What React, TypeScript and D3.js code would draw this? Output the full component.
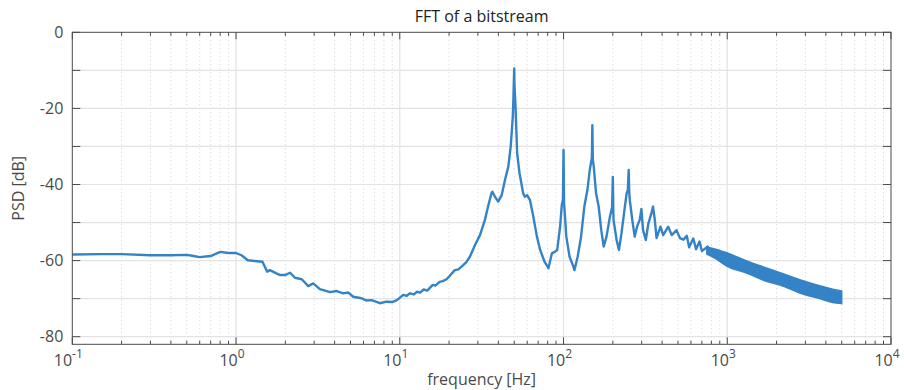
import React from "react";
import * as d3 from "d3";

// Spectrum trace: frequency [Hz] and power spectral density [dB]
const FREQ = [
  0.1, 0.15, 0.2, 0.3, 0.4, 0.5, 0.55, 0.6, 0.7, 0.8, 0.9, 1.0, 1.08, 1.18, 1.3, 1.45,
  1.55, 1.61, 1.75, 1.86, 1.99, 2.14, 2.29, 2.52, 2.76, 2.96, 3.25, 3.75, 4.12, 4.51,
  4.85, 5.2, 5.84, 6.28, 6.73, 7.56, 8.3, 9.0, 9.6, 10.5, 11.0, 11.5, 12.2, 12.7, 13.3,
  14, 14.7, 15.9, 16.5, 17.5, 18.3, 19.3, 20.2, 21.7, 22.8, 24.4, 25.5, 26.8, 28.8,
  30.9, 33.1, 34.6, 36.3, 36.8, 38.1, 39.9, 41.9, 43.9, 46, 47.6, 49, 49.4, 49.8, 50,
  50.2, 51, 52.1, 53.9, 56.7, 58, 59.9, 62.4, 65.4, 68.8, 72, 76.6, 80.9, 84.9, 88.3,
  91.5, 95.3, 97.6, 99.2, 100, 100.8, 101.5, 104, 108.9, 114, 116.6, 122, 128, 134, 140,
  144.6, 147, 149, 150, 151, 153, 158, 164, 170, 176, 183, 192, 198, 200, 201.5, 202,
  211, 218, 226, 237, 243, 247, 250, 252, 254, 263, 272, 281, 292, 299, 306, 318, 330,
  344, 352, 361, 370, 391, 406, 436, 458, 490, 514, 540, 566, 585, 620, 645, 677, 700,
  760, 800, 860, 930, 1000, 1100, 1272, 1585, 1750, 2100, 2770, 3660, 4400, 5000,
];
const PSD_DB = [
  -58.4, -58.3, -58.3, -58.6, -58.6, -58.5, -58.8, -59.1, -58.8, -57.7, -58.0, -58.0,
  -58.6, -59.9, -60.1, -60.3, -62.9, -62.5, -63.3, -63.8, -63.8, -63.2, -64.5, -64.9,
  -66.7, -66.0, -67.5, -68.3, -68.0, -68.6, -68.4, -69.5, -69.9, -70.5, -70.4, -71.2,
  -70.8, -70.9, -70.4, -69.0, -69.3, -68.6, -68.9, -68.2, -68.4, -67.6, -67.9, -66.4,
  -66.6, -65.6, -65.4, -64.9, -64.0, -62.5, -62.3, -61.2, -60.4, -59.0, -55.9, -53.3,
  -49.3, -45.8, -42.3, -41.9, -43.2, -44.5, -42.8, -38.8, -35.3, -30.0, -22.2, -17.8,
  -12.0, -9.5, -14.0, -20.4, -31.8, -37.1, -42.3, -43.2, -42.8, -44.1, -48.5, -53.7,
  -57.2, -60.3, -62.0, -58.1, -57.7, -57.2, -51.1, -45.4, -44.0, -30.9, -45.0, -46.7,
  -53.7, -59.0, -61.2, -62.5, -59.0, -53.7, -45.8, -41.4, -36.2, -34.4, -33.0, -24.4,
  -33.5, -35.3, -42.3, -45.8, -52.0, -56.3, -53.7, -48.5, -46.0, -38.0, -47.0, -49.3,
  -54.6, -57.2, -52.8, -45.8, -42.3, -41.5, -36.2, -42.0, -44.1, -49.3, -53.7, -51.1,
  -49.3, -46.4, -52.0, -54.6, -50.2, -47.6, -45.8, -49.3, -54.1, -51.1, -53.3, -51.1,
  -53.3, -52.0, -54.1, -54.5, -53.5, -56.5, -54.2, -57.0, -55.0, -57.5, -56.3, -58.2,
  -57.5, -59.2, -59.3, -60.3, -61.6, -63.5, -64.0, -64.7, -66.6, -68.3, -69.0, -69.6,
];

// Spread of the dense high-frequency bins (upper / lower envelope, dB)
const BAND_FREQ = [750, 850, 1000, 1300, 1750, 2100, 2770, 3660, 4400, 5000];
const BAND_HI = [-56.5, -57.0, -58.0, -60.0, -62.0, -63.2, -65.0, -66.6, -67.5, -68.0];
const BAND_LO = [-58.3, -59.5, -61.5, -63.2, -65.5, -66.4, -68.5, -70.0, -71.0, -71.3];

const X_DECADES = [-1, 0, 1, 2, 3, 4];
const Y_TICKS = [0, -10, -20, -30, -40, -50, -60, -70, -80];
const Y_LABELS = [0, -20, -40, -60, -80];

const W = 904;
const H = 390;
const LEFT = 72.3;
const RIGHT = 891;
const TOP = 32.3;
const BOTTOM = 344.3;

const LINE_COLOR = "#3483c7";
const AXIS_COLOR = "#4a4a4a";
const TEXT_COLOR = "#4a4a4a";
const FONT = "'Open Sans', 'Noto Sans', sans-serif";

export default function App() {
  const x = d3.scaleLog().domain([0.1, 1e4]).range([LEFT, RIGHT]);
  const y = d3.scaleLinear().domain([-82, 0]).range([BOTTOM, TOP]);

  const minorFreqs: number[] = [];
  for (let e = -1; e < 4; e++) {
    for (let m = 2; m <= 9; m++) minorFreqs.push(m * Math.pow(10, e));
  }

  const points: [number, number][] = FREQ.map((f, i) => [f, PSD_DB[i]]);
  const line = d3
    .line<[number, number]>()
    .x((d) => x(d[0]))
    .y((d) => y(d[1]));

  const bandRows = BAND_FREQ.map((f, i) => ({ f, hi: BAND_HI[i], lo: BAND_LO[i] }));
  const band = d3
    .area<{ f: number; hi: number; lo: number }>()
    .x((d) => x(d.f))
    .y0((d) => y(d.lo))
    .y1((d) => y(d.hi))
    .curve(d3.curveMonotoneX);

  return (
    <svg
      width={W}
      height={H}
      style={{ position: "absolute", left: 0, top: 0, background: "#fff" }}
      fontFamily={FONT}
    >
      <defs>
        <clipPath id="plot-clip">
          <rect x={LEFT} y={TOP} width={RIGHT - LEFT} height={BOTTOM - TOP} />
        </clipPath>
      </defs>

      {/* grid */}
      <g>
        {minorFreqs.map((f) => (
          <line
            key={"mg" + f}
            x1={x(f)}
            x2={x(f)}
            y1={TOP}
            y2={BOTTOM}
            stroke="#cfcfcf"
            strokeWidth={1}
            strokeDasharray="1,3"
          />
        ))}
        {X_DECADES.slice(1, -1).map((e) => (
          <line
            key={"xg" + e}
            x1={x(Math.pow(10, e))}
            x2={x(Math.pow(10, e))}
            y1={TOP}
            y2={BOTTOM}
            stroke="#e3e3e3"
            strokeWidth={1.2}
          />
        ))}
        {Y_TICKS.slice(1).map((v) => (
          <line
            key={"yg" + v}
            x1={LEFT}
            x2={RIGHT}
            y1={y(v)}
            y2={y(v)}
            stroke="#e3e3e3"
            strokeWidth={1.2}
          />
        ))}
      </g>

      {/* spectrum */}
      <g clipPath="url(#plot-clip)">
        <path d={band(bandRows) || ""} fill={LINE_COLOR} stroke={LINE_COLOR} strokeWidth={1.5} />
        <path
          d={line(points) || ""}
          fill="none"
          stroke={LINE_COLOR}
          strokeWidth={2.4}
          strokeLinejoin="round"
        />
      </g>

      {/* axes box and ticks */}
      <g stroke={AXIS_COLOR} strokeWidth={1}>
        <rect x={LEFT} y={TOP} width={RIGHT - LEFT} height={BOTTOM - TOP} fill="none" />
        {Y_TICKS.map((v) => (
          <g key={"yt" + v}>
            <line x1={LEFT} x2={LEFT + 8} y1={y(v)} y2={y(v)} />
            <line x1={RIGHT} x2={RIGHT - 8} y1={y(v)} y2={y(v)} />
          </g>
        ))}
        {X_DECADES.map((e) => (
          <g key={"xt" + e}>
            <line x1={x(Math.pow(10, e))} x2={x(Math.pow(10, e))} y1={BOTTOM} y2={BOTTOM - 7} />
            <line x1={x(Math.pow(10, e))} x2={x(Math.pow(10, e))} y1={TOP} y2={TOP + 7} />
          </g>
        ))}
        {minorFreqs.map((f) => (
          <g key={"xm" + f}>
            <line x1={x(f)} x2={x(f)} y1={BOTTOM} y2={BOTTOM - 3.5} />
            <line x1={x(f)} x2={x(f)} y1={TOP} y2={TOP + 3.5} />
          </g>
        ))}
      </g>

      {/* tick labels */}
      <g fill={TEXT_COLOR} fontSize={16}>
        {Y_LABELS.map((v) => (
          <text key={"yl" + v} x={LEFT - 9} y={y(v)} dy="0.36em" textAnchor="end">
            {v}
          </text>
        ))}
        {X_DECADES.map((e) => (
          <text key={"xl" + e} x={x(Math.pow(10, e)) - 4} y={BOTTOM + 22} textAnchor="middle">
            10
            <tspan fontSize={12} dy={-8}>
              {e}
            </tspan>
          </text>
        ))}
      </g>

      {/* title and axis labels */}
      <text x={(LEFT + RIGHT) / 2} y={22} textAnchor="middle" fontSize={16} fill="#222">
        FFT of a bitstream
      </text>
      <text
        x={(LEFT + RIGHT) / 2}
        y={385}
        textAnchor="middle"
        fontSize={16}
        fill={TEXT_COLOR}
      >
        frequency [Hz]
      </text>
      <text
        transform={`translate(24,${(TOP + BOTTOM) / 2}) rotate(-90)`}
        textAnchor="middle"
        fontSize={16}
        fill={TEXT_COLOR}
      >
        PSD [dB]
      </text>
    </svg>
  );
}
